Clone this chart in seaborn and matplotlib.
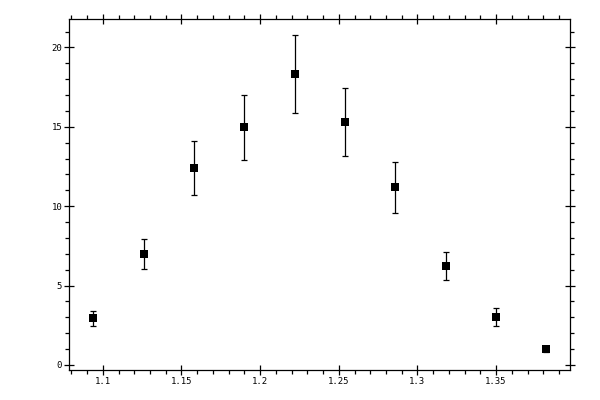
import matplotlib
matplotlib.use("Agg")
import matplotlib.pyplot as plt
from matplotlib.ticker import MultipleLocator, FormatStrFormatter
import seaborn as sns
import pandas as pd

# values
x_vals = [1.094, 1.126, 1.158, 1.190, 1.222, 1.254, 1.286, 1.318, 1.350, 1.382]
y_vals = [2.95, 6.98, 12.4, 14.97, 18.32, 15.29, 11.2, 6.22, 3.0, 0.99]
y_err = [0.47, 0.96, 1.72, 2.03, 2.46, 2.15, 1.6, 0.9, 0.56, 0.15]

df = pd.DataFrame({"x": x_vals, "y": y_vals, "err": y_err})

sns.set_theme(style="ticks")
plt.rcParams["font.family"] = ["DejaVu Sans Mono", "DejaVu Sans"]

fig = plt.figure(figsize=(6, 4), dpi=100)
ax = fig.add_axes([0.1158, 0.075, 0.9500 - 0.1158, 0.952 - 0.075])

ax.errorbar(df["x"], df["y"], yerr=df["err"], fmt="none", ecolor="black",
            elinewidth=0.9, capsize=2.2, capthick=0.9, zorder=2)
sns.scatterplot(data=df, x="x", y="y", marker="s", s=36, color="black",
                edgecolor="black", linewidth=0, ax=ax, zorder=3)

ax.set_xlim(1.0788, 1.397)
ax.set_ylim(-0.32, 21.78)
ax.set_xlabel("")
ax.set_ylabel("")

ax.xaxis.set_major_locator(MultipleLocator(0.05))
ax.xaxis.set_minor_locator(MultipleLocator(0.01))
ax.yaxis.set_major_locator(MultipleLocator(5))
ax.yaxis.set_minor_locator(MultipleLocator(1))
ax.xaxis.set_major_formatter(FormatStrFormatter("%g"))
ax.yaxis.set_major_formatter(FormatStrFormatter("%g"))

ax.tick_params(which="major", direction="inout", length=6.5, width=0.9,
               top=True, right=True, labelsize=6.5, pad=2, color="black",
               labelcolor="black")
ax.tick_params(which="minor", direction="out", length=3, width=0.9,
               top=True, right=True, color="black")
for sp in ax.spines.values():
    sp.set_visible(True)
    sp.set_linewidth(0.9)
    sp.set_color("black")

fig.savefig("out.png", dpi=100)
